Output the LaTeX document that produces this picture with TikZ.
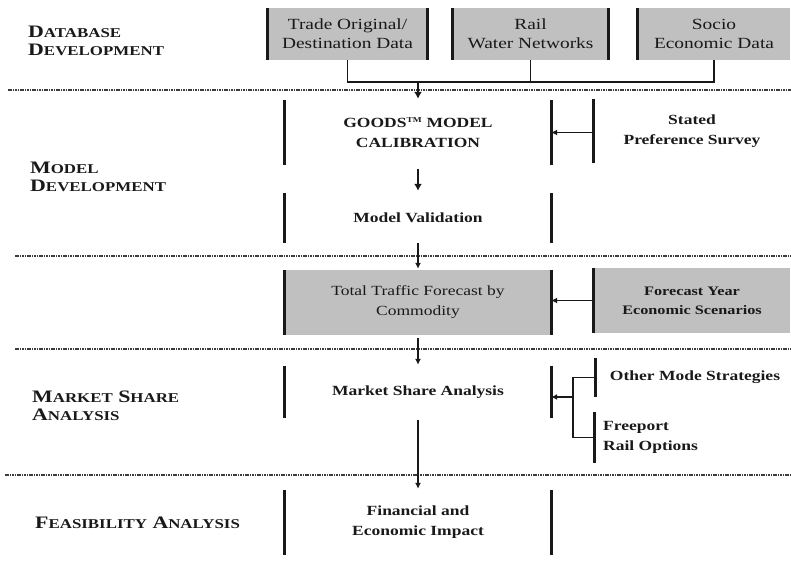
\documentclass[tikz,border=0pt]{standalone}
\usepackage{fontspec}
\setmainfont{Liberation Serif}[FakeStretch=1.25]
\usetikzlibrary{arrows.meta}
\definecolor{boxgray}{RGB}{192,192,192}
\definecolor{ink}{RGB}{25,25,25}
\definecolor{sepgray}{RGB}{60,60,60}
\newcommand{\bigsc}[2]{{\fontsize{17.5}{20}\selectfont #1}{\fontsize{13.5}{16}\selectfont #2}}
\begin{document}
\begin{tikzpicture}[x=1pt,y=-1pt,
  stage/.style={rectangle, inner sep=0pt, align=center, text=ink,
    font=\fontsize{14}{20}\selectfont\bfseries},
  plain/.style={font=\fontsize{15.5}{19}\selectfont},
  fillbox/.style={fill=boxgray},
  lbl/.style={anchor=west, align=left, inner sep=0pt, text=ink,
    font=\bfseries\fontsize{17.5}{20}\selectfont},
  bar/.style={draw=ink, line width=3pt},
  conn/.style={draw=ink, line width=1.9pt},
  arr/.style={draw=ink, line width=1.4pt, -{Latex[length=6pt,width=6pt]}},
  thickarr/.style={draw=ink, line width=2.8pt, -{Latex[length=7pt,width=8pt]}},
  sep/.style={draw=sepgray, line width=1.3pt, dash pattern=on 1.6pt off 0.8pt}
]
\path[use as bounding box] (0,0) rectangle (791,567);

% separators
\draw[sep] (8,90) -- (791,90);
\draw[sep] (15,256) -- (791,256);
\draw[sep] (15,349) -- (791,349);
\draw[sep] (5,475) -- (791,475);

% left labels
\node[lbl] (ldb) at (28,41) {\bigsc{D}{ATABASE}\\[-2pt]\bigsc{D}{EVELOPMENT}};
\node[lbl] (lmd) at (30,177) {\bigsc{M}{ODEL}\\[-2pt]\bigsc{D}{EVELOPMENT}};
\node[lbl] (lms) at (32,406) {\bigsc{M}{ARKET} \bigsc{S}{HARE}\\[-2pt]\bigsc{A}{NALYSIS}};
\node[lbl] (lfa) at (35,523) {\bigsc{F}{EASIBILITY} \bigsc{A}{NALYSIS}};

% top row
\node[stage, plain, fillbox, minimum width=159, minimum height=52] (tod) at (347.5,34) {Trade Original/\\Destination Data};
\node[stage, plain, fillbox, minimum width=155, minimum height=52] (rwn) at (530.5,34) {Rail\\Water Networks};
\node[stage, plain, fillbox, minimum width=152, minimum height=52] (sed) at (714,34) {Socio\\Economic Data};
\draw[bar] (tod.north west) -- (tod.south west);
\draw[bar] (tod.north east) -- (tod.south east);
\draw[bar] (rwn.north west) -- (rwn.south west);
\draw[bar] (rwn.north east) -- (rwn.south east);
\draw[bar] (sed.north west) -- (sed.south west);

% model development
\node[stage, minimum width=266, minimum height=65] (calib) at (418,132.5) {GOODS\textsuperscript{\fontsize{7.5}{8}\selectfont TM} MODEL\\CALIBRATION};
\draw[bar] (calib.north west) -- (calib.south west);
\draw[bar] (calib.north east) -- (calib.south east);
\node[stage, minimum width=196, minimum height=64] (stated) at (692,131) {Stated\\Preference Survey};
\draw[bar] (stated.north west) -- (stated.south west);

\node[stage, minimum width=266, minimum height=50] (valid) at (418,218) {Model Validation};
\draw[bar] (valid.north west) -- (valid.south west);
\draw[bar] (valid.north east) -- (valid.south east);

% forecast
\node[stage, fillbox, font=\fontsize{14}{20}\selectfont, minimum width=266, minimum height=65] (traffic) at (418,302.5) {Total Traffic Forecast by\\Commodity};
\draw[bar] (traffic.north west) -- (traffic.south west);
\draw[bar] (traffic.north east) -- (traffic.south east);
\node[stage, fillbox, font=\fontsize{13}{19}\selectfont\bfseries, minimum width=196, minimum height=65] (fyear) at (692,300.5) {Forecast Year\\Economic Scenarios};
\draw[bar] (fyear.north west) -- (fyear.south west);

% market share
\node[stage, minimum width=266, minimum height=52] (market) at (418,392) {Market Share Analysis};
\draw[bar] (market.north west) -- (market.south west);
\draw[bar] (market.north east) -- (market.south east);
\node[stage, minimum width=196, minimum height=39] (other) at (695,377.5) {Other Mode Strategies};
\draw[bar] (other.north west) ++(-1.5,0) -- ([xshift=-1.5pt]other.south west);
\node[stage, anchor=west, align=left, inner xsep=9pt, minimum height=51] (fre) at (594,437.5) {Freeport\\Rail Options};
\draw[bar] (fre.north west) -- (fre.south west);

% feasibility
\node[stage, minimum width=266, minimum height=65] (fin) at (418,522.5) {Financial and\\Economic Impact};
\draw[bar] (fin.north west) -- (fin.south west);
\draw[bar] (fin.north east) -- (fin.south east);

% connectors
\coordinate (jy) at (0,82);
\draw[conn] (tod.south) |- (jy -| sed.south) -- (sed.south);
\draw[conn] (rwn.south) -- (rwn.south |- jy);
\draw[thickarr, shorten >=1pt] (calib.north |- jy) -- (calib.north);
\draw[thickarr, shorten <=4pt, shorten >=2pt] (calib.south) -- (valid.north);
\draw[arr] (stated.west |- calib.east) -- (calib.east);
\draw[arr, shorten >=1pt] (valid.south) -- (traffic.north);
\draw[arr] (fyear.west) -- (fyear.west -| traffic.east);
\draw[arr, shorten <=3pt, shorten >=1pt] (traffic.south) -- (market.north);
\coordinate (jx) at (573,397);
\draw[conn] (fre.west |- other.west) -| (jx |- fre.west) -- (fre.west);
\draw[arr] (jx) -- (jx -| market.east);
\draw[arr, shorten <=2pt, shorten >=1pt] (market.south) -- (fin.north);
\end{tikzpicture}
\end{document}
